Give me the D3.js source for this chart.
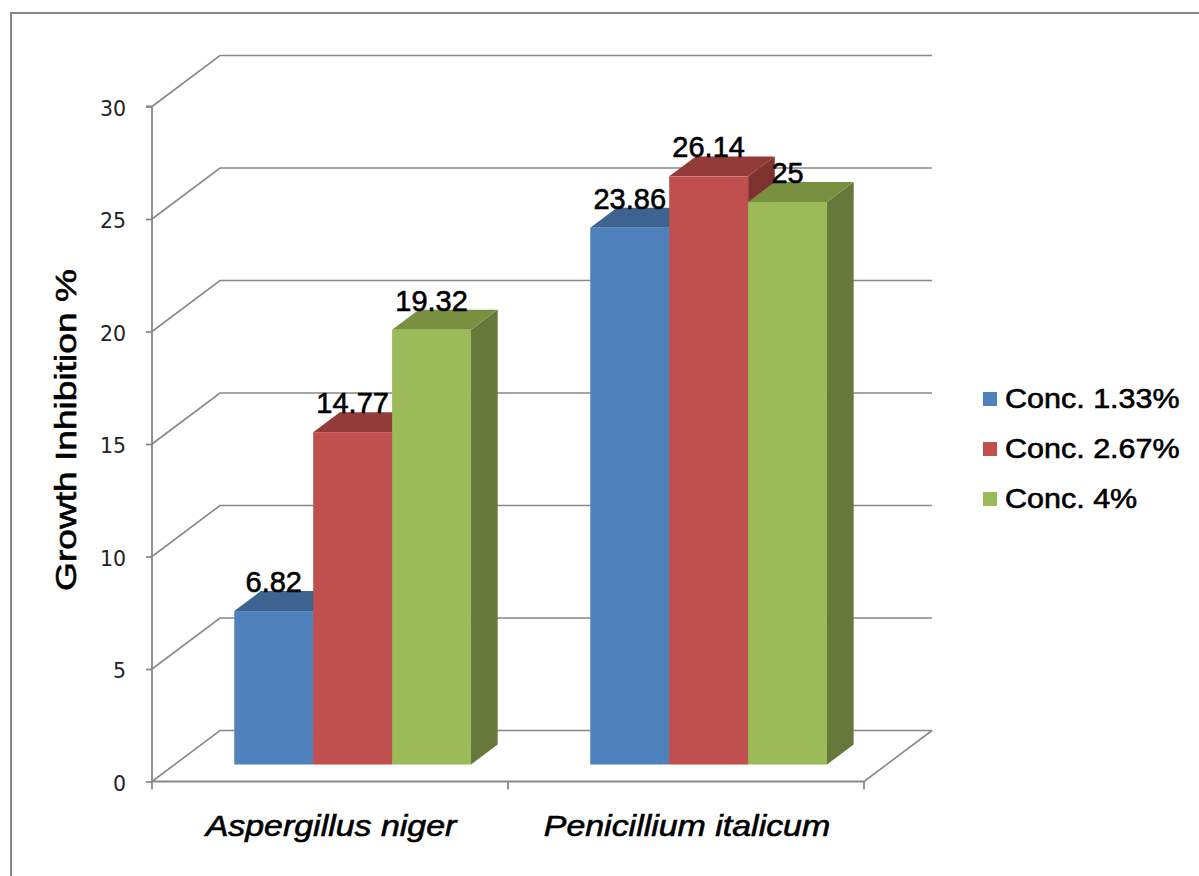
<!DOCTYPE html>
<html>
<head>
<meta charset="utf-8">
<script src="https://cdn.jsdelivr.net/npm/d3@7/dist/d3.min.js"></script>
<style>
  html, body { margin: 0; padding: 0; background: #fff; }
  svg { display: block; }
</style>
</head>
<body>
<svg id="chart" width="1199" height="876"></svg>
<script>
// Growth inhibition data
const categories = ["Aspergillus niger", "Penicillium italicum"];
const seriesNames = ["Conc. 1.33%", "Conc. 2.67%", "Conc. 4%"];
const conc133 = [6.82, 23.86];
const conc267 = [14.77, 26.14];
const conc4 = [19.32, 25];
const yTicks = [0, 5, 10, 15, 20, 25, 30];
const yTitle = "Growth Inhibition %";

const seriesValues = [conc133, conc267, conc4];
const faceColors = [
  { front: "#4f81bd", top: "#3d6491", side: "#395d88" },
  { front: "#c0504d", top: "#933b39", side: "#7e3230" },
  { front: "#9bbb59", top: "#78903f", side: "#66793a" }
];
const labelFont = "'Liberation Sans', Arial, sans-serif";

const svg = d3.select("#chart");

// outer frame
svg.append("rect")
  .attr("x", 11).attr("y", 13)
  .attr("width", 1300).attr("height", 1000)
  .attr("fill", "none").attr("stroke", "#868686").attr("stroke-width", 2);

// 3D projection: depth fraction d shifts right and up
const DX = 68, DY = -51;
const x0Range = [152, 864];
const y = d3.scaleLinear().domain([0, 30]).range([781.5, 106.5]);
const x0 = d3.scaleBand().domain(categories).range(x0Range)
  .paddingInner(0.335).paddingOuter(0.1675);
const x1 = d3.scaleBand().domain(seriesNames).range([0, x0.bandwidth()]);
const P = (x, v, d) => [x + d * DX, y(v) + d * DY];

const gridColor = "#888888";
const grid = svg.append("g").attr("fill", "none").attr("stroke", gridColor).attr("stroke-width", 1.6);

// back wall gridlines plus side-wall diagonals
yTicks.forEach(t => {
  const a = P(x0Range[0], t, 0), b = P(x0Range[0], t, 1), c = P(x0Range[1], t, 1);
  grid.append("path").attr("d", d3.line()([a, b, c]));
});
// floor: right diagonal
grid.append("path").attr("d", d3.line()([P(x0Range[1], 0, 0), P(x0Range[1], 0, 1)]));

// y axis
const yAxis = d3.axisLeft(y).tickValues(yTicks).tickSize(6).tickPadding(20).tickFormat(d3.format("d"));
const gy = svg.append("g").attr("transform", `translate(${x0Range[0]},0)`).call(yAxis);
gy.select(".domain").attr("stroke", gridColor).attr("stroke-width", 1.8).attr("d", `M-6,${y(30)}H0V${y(0)}`);
gy.selectAll(".tick line").attr("stroke", gridColor).attr("stroke-width", 1.8);
gy.selectAll(".tick text")
  .attr("font-family", "'DejaVu Sans', sans-serif").attr("font-size", 20.5)
  .attr("fill", "#222").attr("dy", "0.42em");

// x axis front line and category separators
const boundaries = [x0Range[0]].concat(categories.map(c => x0(c) + x0.bandwidth() + (x0.step() - x0.bandwidth()) / 2));
const gx = svg.append("g");
gx.append("line").attr("x1", x0Range[0]).attr("x2", x0Range[1])
  .attr("y1", y(0)).attr("y2", y(0)).attr("stroke", gridColor).attr("stroke-width", 1.8);
gx.selectAll("line.sep").data(boundaries).join("line").attr("class", "sep")
  .attr("x1", d => d).attr("x2", d => d).attr("y1", y(0)).attr("y2", y(0) + 8)
  .attr("stroke", gridColor).attr("stroke-width", 1.8);

// category labels
gx.selectAll("text.cat").data(categories).join("text").attr("class", "cat")
  .attr("transform", d => `translate(${x0(d) + x0.bandwidth() / 2 + 1},836) scale(1.17,1)`)
  .attr("text-anchor", "middle")
  .attr("font-family", labelFont)
  .attr("font-style", "italic").attr("font-size", 29).attr("fill", "#000")
  .attr("stroke", "#000").attr("stroke-width", 0.6)
  .text(d => d);

// bars
const D0 = 0.333, D1 = 0.725;
const bars = [];
categories.forEach((c, ci) => {
  seriesNames.forEach((s, si) => {
    bars.push({ cat: c, series: s, si, value: seriesValues[si][ci] });
  });
});
const gb = svg.append("g");
bars.forEach(b => {
  const xl = x0(b.cat) + x1(b.series);
  const xr = xl + x1.bandwidth();
  const col = faceColors[b.si];
  const g = gb.append("g");
  // right side
  g.append("path").attr("fill", col.side)
    .attr("d", d3.line()([P(xr, 0, D0), P(xr, 0, D1), P(xr, b.value, D1), P(xr, b.value, D0)]) + "Z");
  // top
  g.append("path").attr("fill", col.top)
    .attr("d", d3.line()([P(xl, b.value, D0), P(xr, b.value, D0), P(xr, b.value, D1), P(xl, b.value, D1)]) + "Z");
  // front
  const f0 = P(xl, b.value, D0), f1 = P(xr, 0, D0);
  g.append("rect").attr("fill", col.front)
    .attr("x", f0[0]).attr("y", f0[1]).attr("width", f1[0] - f0[0]).attr("height", f1[1] - f0[1]);
});

// value labels
svg.append("g").selectAll("text").data(bars).join("text")
  .attr("x", d => P(x0(d.cat) + x1(d.series) + x1.bandwidth() / 2, d.value, D0)[0])
  .attr("y", d => P(0, d.value, D1)[1] + 1)
  .attr("text-anchor", "middle")
  .attr("font-family", labelFont)
  .attr("font-size", 29).attr("fill", "#000")
  .attr("stroke", "#000").attr("stroke-width", 0.6)
  .text(d => d3.format("")(d.value));

// y axis title
svg.append("text")
  .attr("transform", "translate(76,430) rotate(-90) scale(1.28,1)")
  .attr("text-anchor", "middle")
  .attr("font-family", labelFont)
  .attr("font-size", 29).attr("fill", "#000")
  .attr("stroke", "#000").attr("stroke-width", 0.6)
  .text(yTitle);

// legend
const legend = svg.append("g").selectAll("g").data(seriesNames).join("g")
  .attr("transform", (d, i) => `translate(983,${392 + i * 50})`);
legend.append("rect").attr("width", 14).attr("height", 14).attr("fill", (d, i) => faceColors[i].front);
legend.append("text")
  .attr("transform", "translate(22,16) scale(1.13,1)")
  .attr("font-family", labelFont)
  .attr("font-size", 27).attr("fill", "#000")
  .attr("stroke", "#000").attr("stroke-width", 0.6)
  .text(d => d);
</script>
</body>
</html>
